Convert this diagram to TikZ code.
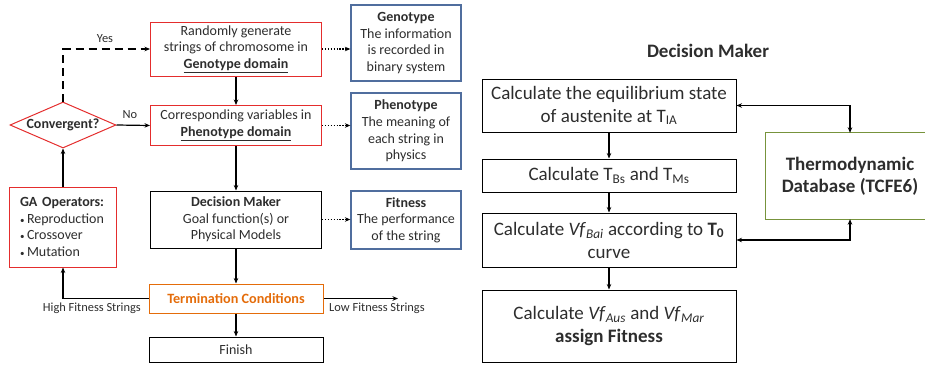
\documentclass[tikz,border=0pt]{standalone}
\usepackage{fontspec}
\setmainfont{Carlito}
\usetikzlibrary{arrows.meta,shapes.geometric}
\definecolor{myred}{RGB}{228,45,45}
\definecolor{myblue}{RGB}{80,110,158}
\definecolor{mygreen}{RGB}{119,147,60}
\definecolor{myorange}{RGB}{228,108,10}
\definecolor{txt}{RGB}{45,45,45}
\begin{document}
\begin{tikzpicture}[x=1pt,y=-1pt,
  box/.style={draw, line width=1pt, inner sep=0pt, align=center, text=txt,
    font=\fontsize{14}{16.7}\selectfont},
  redbox/.style={box, draw=myred},
  bluebox/.style={box, draw=myblue, line width=1.3pt},
  rbox/.style={box, draw=black, minimum width=254, font=\fontsize{19}{23}\selectfont},
  arr/.style={-{Stealth[length=5.5pt,width=4.5pt]}, line width=1.2pt},
  dotarr/.style={arr, dash pattern=on 1.3pt off 1.6pt},
  lab/.style={inner sep=0pt, text=txt, font=\fontsize{12.4}{14}\selectfont}]
\useasboundingbox (0,0) rectangle (925,364);

% left flowchart
\node[redbox, minimum width=171, minimum height=54] (gen) at (236,49)
  {Randomly generate\\ strings of chromosome in\\ \underline{\textbf{Genotype domain}}};
\node[bluebox, minimum width=110, minimum height=76] (genT) at (406,43)
  {\textbf{Genotype}\\ The information\\ is recorded in\\ binary system};
\node[redbox, minimum width=171, minimum height=40] (phen) at (236,125.5)
  {Corresponding variables in\\ \underline{\textbf{Phenotype domain}}};
\node[bluebox, minimum width=110, minimum height=76] (phenT) at (406,131)
  {\textbf{Phenotype}\\ The meaning of\\ each string in\\ physics};
\node[box, minimum width=171, minimum height=57] (dm) at (236,219.5)
  {\textbf{Decision Maker}\\ Goal function(s) or\\ Physical Models};
\node[bluebox, minimum width=110, minimum height=58] (fit) at (406,220)
  {\textbf{Fitness}\\ The performance\\ of the string};
\node[draw=myred, line width=1pt, diamond, inner sep=0pt, minimum width=106, minimum height=46,
  label={[text=txt, font=\fontsize{14}{16}\selectfont\bfseries]center:Convergent?}] (conv) at (63,125) {};
\node[redbox, minimum width=107, minimum height=80, text width=86, align=left] (ga) at (63,227)
  {\textbf{GA Operators:}\\ \makebox[7pt][l]{\fontsize{9}{9}\selectfont•}Reproduction\\ \makebox[7pt][l]{\fontsize{9}{9}\selectfont•}Crossover\\ \makebox[7pt][l]{\fontsize{9}{9}\selectfont•}Mutation};
\node[box, draw=myorange, minimum width=174, minimum height=29, text=myorange,
  font=\fontsize{14.2}{16}\selectfont\bfseries] (term) at (236,298.5) {Termination Conditions};
\node[box, minimum width=174, minimum height=25] (fin) at (236,349.5) {Finish};
\coordinate (lowend) at (398,298.5);

\draw[arr, dash pattern=on 8pt off 5pt] (conv.north) |- (gen.west);
\node[lab] (yes) at (105,39) {Yes};
\draw[arr] (conv.east) -- (phen.west);
\node[lab] (no) at (130,115) {No};
\draw[dotarr] (gen.east) -- (gen.east -| genT.west);
\draw[dotarr] (phen.east) -- (phen.east -| phenT.west);
\draw[dotarr] (dm.east) -- (dm.east -| fit.west);
\draw[arr] (gen.south) -- (phen.north);
\draw[arr] (phen.south) -- (dm.north);
\draw[arr] (dm.south) -- (term.north);
\draw[arr] (term.south) -- (fin.north);
\draw[arr] (ga.north) -- (conv.south);
\draw[arr] (term.west) -| (ga.south);
\draw[arr] (term.east) -- (lowend);
\node[lab, anchor=east] (high) at (141,308) {High Fitness Strings};
\node[lab, anchor=west] (low) at (329,308) {Low Fitness Strings};

% right flowchart
\node[inner sep=0pt, text=txt, font=\fontsize{19}{22}\selectfont\bfseries] (title) at (708,51) {Decision Maker};
\node[rbox, minimum height=53] (r1) at (609,105.5)
  {Calculate the equilibrium state\\ of austenite at T\textsubscript{IA}};
\node[rbox, minimum height=33] (r2) at (609,175.5)
  {Calculate T\textsubscript{Bs} and T\textsubscript{Ms}};
\node[rbox, minimum height=54] (r3) at (609,240)
  {Calculate \textit{Vf}\textsubscript{\textit{Bai}} according to \textbf{T\textsubscript{0}}\\ curve};
\node[rbox, minimum height=72] (r4) at (609,326)
  {Calculate \textit{Vf}\textsubscript{\textit{Aus}} and \textit{Vf}\textsubscript{\textit{Mar}}\\ \textbf{assign Fitness}};
\node[inner sep=0pt, minimum width=168, minimum height=86, align=center, text=txt,
  font=\fontsize{19}{22}\selectfont\bfseries] (db) at (850,176) {Thermodynamic\\ Database (TCFE6)};
\draw[mygreen, line width=1.2pt] (db.north -| 925.5,0) -- (db.north west) -- (db.south west) -- (db.south -| 925.5,0);

\draw[arr] (r1.south) -- (r2.north);
\draw[arr] (r2.south) -- (r3.north);
\draw[arr] (r3.south) -- (r4.north);
\draw[arr, {Stealth[length=5.5pt,width=4.5pt]}-{Stealth[length=5.5pt,width=4.5pt]}] (r1.east) -| (db.north);
\draw[arr, {Stealth[length=5.5pt,width=4.5pt]}-{Stealth[length=5.5pt,width=4.5pt]}] (r3.east) -| (db.south);
\end{tikzpicture}
\end{document}
